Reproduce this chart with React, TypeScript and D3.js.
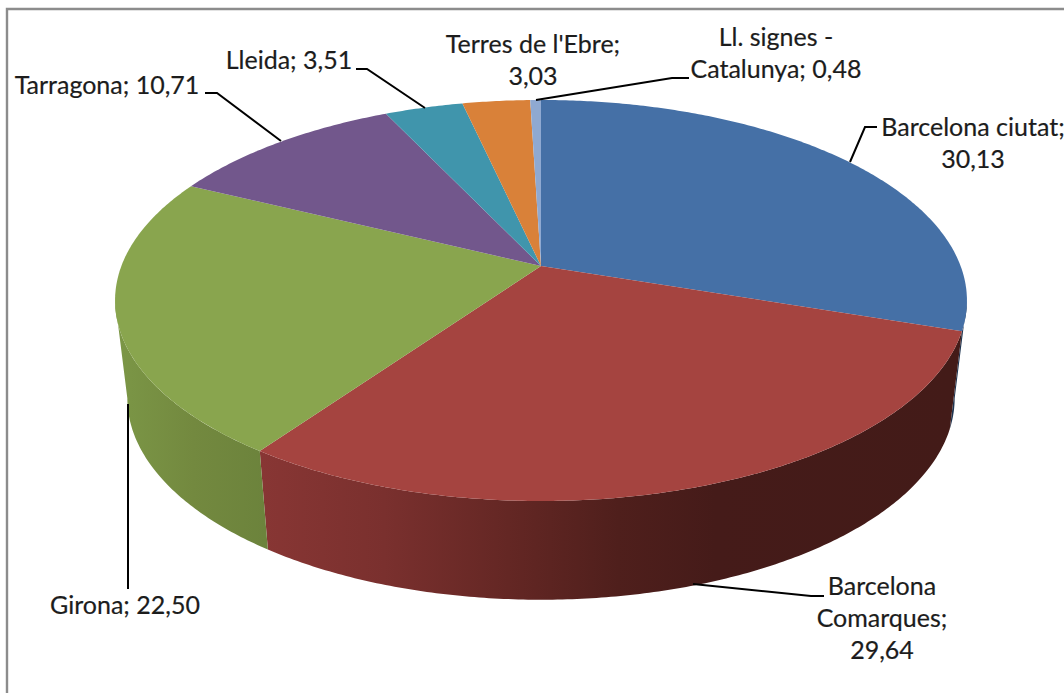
import React from "react";
import * as d3 from "d3";

const categories = ["Barcelona ciutat", "Barcelona Comarques", "Girona", "Tarragona", "Lleida", "Terres de l'Ebre", "Ll. signes - Catalunya"];
const values = [30.13, 29.64, 22.5, 10.71, 3.51, 3.03, 0.48];
const colors = ["#4570a6", "#a54440", "#89a54e", "#72578c", "#4095ac", "#d98139", "#8fa9d1"];
const labelText = [
  ["Barcelona ciutat;", "30,13"],
  ["Barcelona", "Comarques;", "29,64"],
  ["Girona; 22,50"],
  ["Tarragona; 10,71"],
  ["Lleida; 3,51"],
  ["Terres de l'Ebre;", "3,03"],
  ["Ll. signes -", "Catalunya; 0,48"],
];

const W = 1064, H = 693;
const layout = [
  { x: 973, y: 136, leader: [[877, 127], [865, 127], [850, 162]] },
  { x: 882, y: 595, leader: [[824, 596], [811, 596], [693, 584]] },
  { x: 125, y: 614, leader: [[128, 589], [128, 404]] },
  { x: 107, y: 94, leader: [[205, 93], [217, 93], [281, 141]] },
  { x: 289, y: 69, leader: [[356, 69], [367, 69], [425, 108]] },
  { x: 533, y: 53, leader: null },
  { x: 776, y: 46, leader: [[689, 78], [672, 78], [536, 100]] },
];

// perspective projection of the pie disc
const CX = 541, K = 0.172;
const topFace = { y0: 266, A: 194.6, B: 419.6 };
const botFace = { y0: 363.5, A: 195.6, B: 407.5 };
const project = (f: typeof topFace, t: number): [number, number] => {
  const d = 1 + K * Math.sin(t);
  return [CX + (f.B * Math.cos(t)) / d, f.y0 - (f.A * Math.sin(t)) / d];
};
const sampleAngles = (a: number, b: number) => {
  const n = Math.max(2, Math.ceil(Math.abs(b - a) / 0.01));
  return d3.range(n + 1).map((i) => a + ((b - a) * i) / n);
};

const pie = d3.pie<number>().sort(null).value((d) => d);
const arcs = pie(values);
const toTheta = (a: number) => Math.PI / 2 - a;
const line = d3.line();
const closed = (pts: [number, number][]) => (line(pts) ?? "") + "Z";

const wedge = (a0: number, a1: number) =>
  closed([[CX, topFace.y0], ...sampleAngles(toTheta(a0), toTheta(a1)).map((t) => project(topFace, t))]);
const side = (t0: number, t1: number) => {
  const ts = sampleAngles(t0, t1);
  return closed([...ts.map((t) => project(topFace, t)), ...ts.slice().reverse().map((t) => project(botFace, t))]);
};
const tangent = Math.asin(K);
const rightEnd = -tangent;
const leftEnd = -Math.PI + tangent;

const redStops: [number, string][] = [[0, "#883634"], [0.18, "#7a302e"], [0.36, "#642724"], [0.52, "#4f1f1c"], [0.66, "#451b19"], [1, "#431b18"]];
const greenStops: [number, string][] = [[0, "#7b9646"], [0.5, "#73893f"], [1, "#6c833c"]];

export default function App() {
  return (
    <svg width={W} height={H} style={{ position: "absolute", left: 0, top: 0, background: "#fff" }}>
      <defs>
        <linearGradient id="red" gradientUnits="userSpaceOnUse" x1={260} x2={950} y1={0} y2={0}>
          {redStops.map(([o, c]) => <stop key={o} offset={o} stopColor={c} />)}
        </linearGradient>
        <linearGradient id="green" gradientUnits="userSpaceOnUse" x1={120} x2={266} y1={0} y2={0}>
          {greenStops.map(([o, c]) => <stop key={o} offset={o} stopColor={c} />)}
        </linearGradient>
      </defs>
      <path d="M7,693V9H1064" fill="none" stroke="#8c8c8c" strokeWidth={2.4} />
      <path d={side(toTheta(arcs[0].endAngle), rightEnd)} fill="#1f3551" />
      <path d={side(toTheta(arcs[1].startAngle), toTheta(arcs[1].endAngle))} fill="url(#red)" />
      <path d={side(toTheta(arcs[1].endAngle), leftEnd)} fill="url(#green)" />
      {arcs.map((a, i) => (
        <path key={categories[i]} d={wedge(a.startAngle, a.endAngle)} fill={colors[i]} />
      ))}
      {layout.map((l, i) =>
        l.leader ? (
          <path key={i} d={line(l.leader as [number, number][]) ?? ""} fill="none" stroke="#000" strokeWidth={2} />
        ) : null
      )}
      {labelText.map((lines, i) => (
        <text key={i} textAnchor="middle" fontFamily="Lato" fontSize={25} fill="#1c1c1c" stroke="#1c1c1c" strokeWidth={0.2}>
          {lines.map((s, j) => (
            <tspan key={j} x={layout[i].x} y={layout[i].y + j * 32}>{s}</tspan>
          ))}
        </text>
      ))}
    </svg>
  );
}
